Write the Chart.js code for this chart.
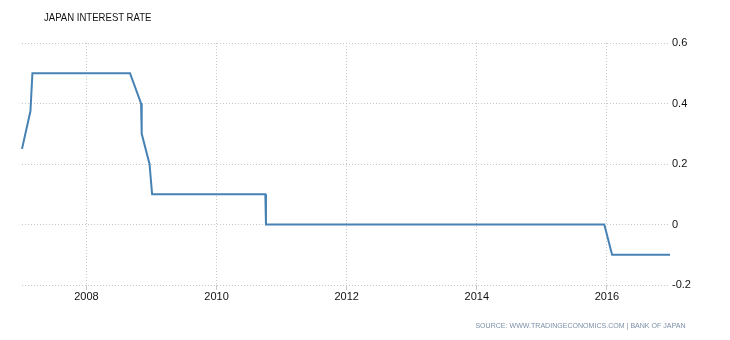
<!DOCTYPE html>
<html>
<head>
<meta charset="utf-8">
<script src="https://cdn.jsdelivr.net/npm/chart.js@4/dist/chart.umd.min.js"></script>
<style>
  html, body { margin: 0; padding: 0; background: #fff; }
  #wrap { position: relative; width: 730px; height: 340px; }
  #title {
    position: absolute; left: 44px; top: 11px;
    font: 11px "Liberation Sans", Arial, sans-serif;
    color: #111; white-space: nowrap;
    transform: scaleX(0.87); transform-origin: left center;
  }
  #source {
    position: absolute; right: 45px; top: 321px;
    font: 7.5px "Liberation Sans", Arial, sans-serif;
    color: #7d8fa8; white-space: nowrap;
    transform: scaleX(0.94); transform-origin: right center;
  }
</style>
</head>
<body>
<div id="wrap">
  <canvas id="rateChart" width="730" height="340"></canvas>
  <div id="title">JAPAN INTEREST RATE</div>
  <div id="source">SOURCE: WWW.TRADINGECONOMICS.COM | BANK OF JAPAN</div>
</div>
<script>
// Japan interest rate (x = decimal year)
const years = [2007.01, 2007.14, 2007.17, 2008.67, 2008.84, 2008.85, 2008.97, 2009.01, 2010.75, 2010.76, 2015.96, 2016.08, 2016.97];
const rates = [0.25, 0.375, 0.5, 0.5, 0.4, 0.3, 0.2, 0.1, 0.1, 0, 0, -0.1, -0.1];
const xTicks = [2008, 2010, 2012, 2014, 2016];
const yTicks = [-0.2, 0, 0.2, 0.4, 0.6];

const gridColor = '#c8c8c8';
const tickFont = { family: '"Liberation Sans", Arial, sans-serif', size: 11 };

document.addEventListener('DOMContentLoaded', () => {
  const ctx = document.getElementById('rateChart').getContext('2d');
  new Chart(ctx, {
    type: 'line',
    data: {
      datasets: [{
        label: 'Japan Interest Rate',
        data: years.map((y, i) => ({ x: y, y: rates[i] })),
        borderColor: '#4682b4',
        borderWidth: 2,
        pointRadius: 0,
        tension: 0,
        fill: false,
        clip: false
      }]
    },
    options: {
      responsive: false,
      animation: false,
      layout: { padding: { left: 22, top: 43, right: 0, bottom: 0 } },
      scales: {
        x: {
          type: 'linear',
          min: years[0],
          max: years[years.length - 1],
          afterBuildTicks: s => { s.ticks = xTicks.map(v => ({ value: v })); },
          afterFit: s => { s.height = 55; },
          grid: { color: gridColor, lineWidth: 1, drawTicks: true, tickLength: 5 },
          border: { display: false, dash: [1, 2] },
          ticks: { color: '#111', font: tickFont, padding: 0, maxRotation: 0, callback: v => String(v) }
        },
        y: {
          position: 'right',
          min: yTicks[0],
          max: yTicks[yTicks.length - 1],
          afterBuildTicks: s => { s.ticks = yTicks.map(v => ({ value: v })); },
          afterFit: s => { s.width = 60; },
          grid: { color: gridColor, lineWidth: 1, drawTicks: false },
          border: { display: false, dash: [1, 2] },
          ticks: { color: '#111', font: tickFont, padding: 2, callback: v => String(v) }
        }
      },
      plugins: {
        legend: { display: false },
        tooltip: { enabled: false }
      }
    }
  });
});
</script>
</body>
</html>
